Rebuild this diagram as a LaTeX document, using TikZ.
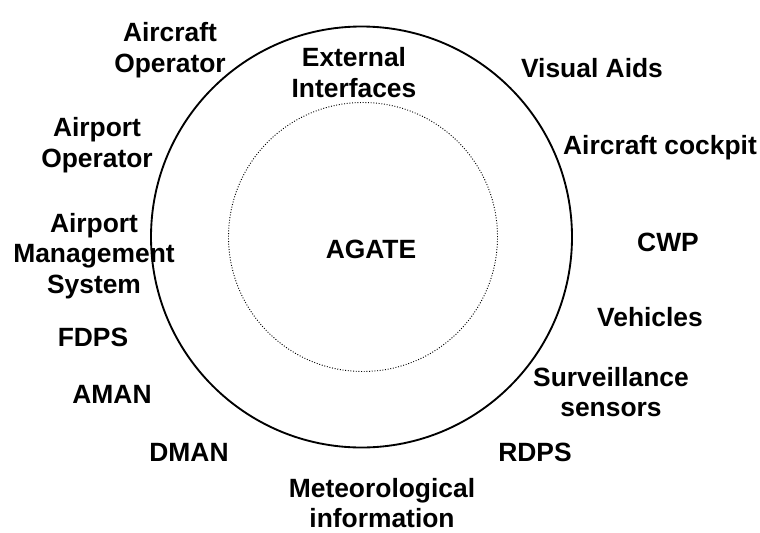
\documentclass[tikz,border=0pt]{standalone}
\usepackage{fontspec}
\setmainfont{Liberation Sans}
\usetikzlibrary{positioning}

\begin{document}
\begin{tikzpicture}[x=0.75pt,y=-0.75pt]
	\tikzstyle{lbl} = [font=\fontsize{19.8}{22.8}\selectfont\bfseries, align=center, inner sep=0pt]
	\tikzstyle{ring} = [draw, circle, inner sep=0pt]
	\useasboundingbox (0,0) rectangle (760,532);

	\node [ring, line width=1.4pt, minimum size=315.75pt] (outer) at (361.5,237) {};
	\node [ring, line width=0.7pt, dash pattern=on 0.7pt off 1.3pt, minimum size=201.75pt] (inner) at (363,237) {};

	\node [lbl] (agate) at (371,249) {AGATE};
	\node [lbl] (extif) at (354,72.5) {External\\Interfaces};

	\node [lbl] (acop) at (170,50) {Aircraft\\Operator};
	\node [lbl] (apop) at (97,145) {Airport\\Operator};
	\node [lbl] (amsys) at (94,256) {Airport\\Management\\System};
	\node [lbl] (fdps) at (93,337) {FDPS};
	\node [lbl] (aman) at (112,394) {AMAN};
	\node [lbl] (dman) at (189,452) {DMAN};
	\node [lbl] (meteo) at (382,503) {Meteorological\\information};
	\node [lbl] (rdps) at (535,452) {RDPS};
	\node [lbl] (surv) at (611,392) {Surveillance\\sensors};
	\node [lbl] (veh) at (650,317) {Vehicles};
	\node [lbl] (cwp) at (668,242) {CWP};
	\node [lbl] (cockpit) at (660,148) {Aircraft cockpit};
	\node [lbl] (visaids) at (592,68) {Visual Aids};

\end{tikzpicture}
\end{document}
